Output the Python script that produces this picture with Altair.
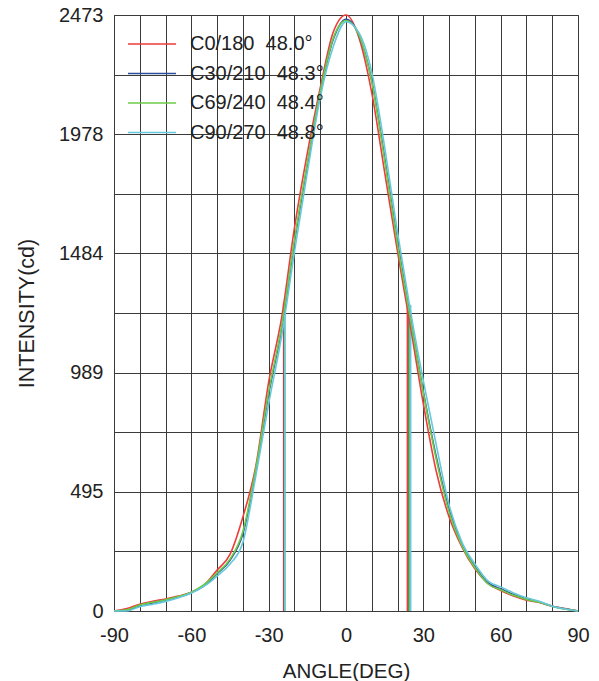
import altair as alt
import pandas as pd

angles = list(range(-90, 91, 5))

series_names = ["C0/180\u00a0\u00a048.0°", "C30/210\u00a0\u00a048.3°",
                "C69/240\u00a0\u00a048.4°", "C90/270\u00a0\u00a048.8°"]
series_colors = ["#ee3b3b", "#2f4b9c", "#6ccb47", "#66c8dc"]

red = [0, 10, 28, 40, 50, 62, 78, 108, 170, 235, 390, 600, 950, 1215, 1590, 1900, 2170, 2400, 2473,
       2380, 2150, 1820, 1490, 1180, 860, 580, 390, 265, 175, 115, 85, 62, 45, 35, 20, 10, 0]
blue = [0, 3, 22, 33, 45, 58, 76, 105, 155, 210, 320, 580, 900, 1170, 1530, 1850, 2150, 2370, 2455,
        2390, 2200, 1880, 1530, 1215, 910, 640, 420, 275, 185, 118, 92, 68, 50, 37, 20, 9, 0]
green = [0, 5, 25, 36, 47, 60, 78, 110, 158, 215, 330, 590, 910, 1180, 1540, 1860, 2155, 2375, 2450,
         2390, 2195, 1870, 1520, 1210, 905, 630, 410, 270, 180, 113, 88, 65, 48, 36, 19, 8, 0]
cyan = [0, 0, 18, 28, 40, 55, 75, 103, 145, 195, 285, 560, 860, 1140, 1490, 1820, 2130, 2340, 2445,
        2400, 2235, 1925, 1570, 1245, 955, 690, 440, 285, 195, 125, 100, 75, 55, 40, 20, 8, 0]

beam_left = [-24.2, -23.9, -23.8, -23.7]
beam_right = [23.8, 24.4, 24.6, 25.1]
beam_top = [1280, 1275, 1275, 1270]

x_ticks = list(range(-90, 91, 10))
y_max = 2473
y_ticks = [0, 247.3, 494.6, 741.9, 989.2, 1236.5, 1483.8, 1731.1, 1978.4, 2225.7, 2473]

rows = []
for name, vals in zip(series_names, [red, blue, green, cyan]):
    for a, v in zip(angles, vals):
        rows.append({"angle": a, "intensity": v, "series": name})
df = pd.DataFrame(rows)

beam_rows = []
for name, l, r, t in zip(series_names, beam_left, beam_right, beam_top):
    beam_rows.append({"angle": l, "top": t, "zero": 0, "series": name})
    beam_rows.append({"angle": r, "top": t, "zero": 0, "series": name})
bdf = pd.DataFrame(beam_rows)

ldf = pd.DataFrame({"series": series_names, "rank": list(range(len(series_names)))})

FONT = "Liberation Sans"

xscale = alt.Scale(domain=[-90, 90], nice=False)
yscale = alt.Scale(domain=[0, y_max], nice=False)
xaxis = alt.Axis(values=x_ticks, title="ANGLE(DEG)",
                 labelExpr="datum.value % 30 == 0 ? ('' + datum.value) : ''",
                 labelFlush=False, labelOverlap=False,
                 grid=True, ticks=False, labelPadding=14, titlePadding=16,
                 titleFontSize=20.5)
yaxis = alt.Axis(values=y_ticks, title="INTENSITY(cd)",
                 labelExpr="round(datum.value / 247.3) % 2 == 0 ? format(datum.value, '.0f') : ''",
                 labelFlush=False, labelOverlap=False,
                 grid=True, ticks=False, labelPadding=11, titlePadding=20,
                 titleFontSize=21.5)
cscale = alt.Scale(domain=series_names, range=series_colors)

lines = alt.Chart(df).mark_line(strokeWidth=1.6, interpolate="monotone").encode(
    x=alt.X("angle:Q", scale=xscale, axis=xaxis),
    y=alt.Y("intensity:Q", scale=yscale, axis=yaxis),
    color=alt.Color("series:N", scale=cscale, sort=series_names, legend=None),
    order=alt.Order("angle:Q"),
    detail="series:N",
)

beams = alt.Chart(bdf).mark_rule(strokeWidth=1.5).encode(
    x=alt.X("angle:Q", scale=xscale, axis=xaxis),
    y=alt.Y("zero:Q", scale=yscale, axis=yaxis),
    y2="top:Q",
    color=alt.Color("series:N", scale=cscale, sort=series_names, legend=None),
)

# legend drawn as marks (row index -> pixel row, independent scale)
lrow = alt.Scale(domain=[0, 1], range=[29, 58.5])
leg_rules = alt.Chart(ldf).mark_rule(strokeWidth=1.5).encode(
    x=alt.value(14), x2=alt.value(62),
    y=alt.Y("rank:Q", scale=lrow, axis=None),
    color=alt.Color("series:N", scale=cscale, sort=series_names, legend=None),
)
leg_text = alt.Chart(ldf).mark_text(align="left", baseline="middle", font=FONT,
                                    fontSize=20, color="#222").encode(
    x=alt.value(76),
    y=alt.Y("rank:Q", scale=lrow, axis=None),
    text="series:N",
)

chart = alt.layer(
    alt.layer(beams, lines),
    alt.layer(leg_rules, leg_text),
).resolve_scale(y="independent").properties(
    width=464, height=596,
    autosize=alt.AutoSizeParams(type="none"),
    padding={"left": 106, "top": 7, "right": 13, "bottom": 70},
).configure_axis(
    gridColor="#3a3a3a", gridWidth=1, gridOpacity=1,
    domainColor="#3a3a3a", domainWidth=1,
    labelFont=FONT, labelFontSize=20, labelColor="#222",
    titleFont=FONT, titleColor="#222", titleFontWeight="normal",
).configure_view(stroke="#555", strokeWidth=1)

chart.save("out.html", embed_options={"renderer": "svg", "actions": False})
